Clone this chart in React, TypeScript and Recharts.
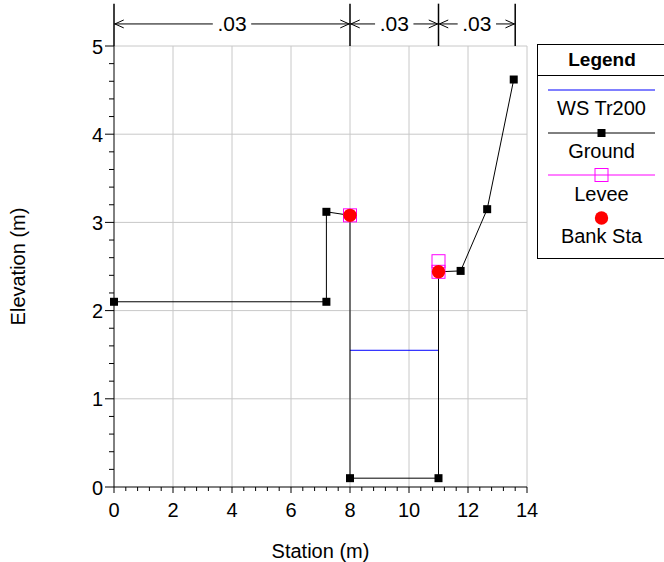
import React from 'react';
import { LineChart, Line, XAxis, YAxis, ReferenceLine, ReferenceDot, Label } from 'recharts';

const groundStation = [0, 7.2, 7.2, 8, 8, 11, 11, 11.75, 12.65, 13.55];
const groundElev = [2.1, 2.1, 3.12, 3.08, 0.1, 0.1, 2.44, 2.45, 3.15, 4.62];
const wsStation = [8, 11];
const wsElev = [1.55, 1.55];
const leveeStation = [8, 11, 11];
const leveeElev = [3.08, 2.44, 2.56];
const bankStation = [8, 11];
const bankElev = [3.08, 2.44];
const nBreaks = [0, 8, 11, 13.6];
const nValues = ['.03', '.03', '.03'];
const xMajorTicks = [0, 2, 4, 6, 8, 10, 12, 14];
const yMajorTicks = [0, 1, 2, 3, 4, 5];
const seriesNames = ['WS Tr200', 'Ground', 'Levee', 'Bank Sta'];
const seriesColors = ['#0000ff', '#000000', '#ff00ff', '#ff0000'];

const FONT = '"Liberation Sans", Arial, Helvetica, sans-serif';
const N_LEVEL = 5.25;
const N_TOP = 5.48;
const ARROW_DX = 0.3;
const ARROW_DY = 0.045;
const TEXT_HALF = 0.65;

const zip = (xs: number[], ys: number[]) => xs.map((x, i) => ({ x, y: ys[i] }));
const groundData = zip(groundStation, groundElev);
const wsData = zip(wsStation, wsElev);
const leveeData = zip(leveeStation, leveeElev);
const bankData = zip(bankStation, bankElev);

const withMinor = (majors: number[], sub: number) => {
  const out: number[] = [];
  for (let i = 0; i < majors.length - 1; i++) {
    for (let k = 0; k < sub; k++) out.push(majors[i] + ((majors[i + 1] - majors[i]) * k) / sub);
  }
  out.push(majors[majors.length - 1]);
  return out;
};
const xTicks = withMinor(xMajorTicks, 5);
const yTicks = withMinor(yMajorTicks, 5);
const isMajor = (v: number, majors: number[]) => majors.some((m) => Math.abs(m - v) < 1e-6);

const X_TS = 6;
const X_TM = 10;
const Y_TS = 9;
const Y_TM = 2;

const XTick = (p: any) => {
  const v = p.payload.value;
  const major = isMajor(v, xMajorTicks);
  const ay = p.y - X_TS - X_TM;
  return (
    <g>
      <line x1={p.x} x2={p.x} y1={ay} y2={ay + (major ? 6 : 4)} stroke="#000" strokeWidth={1} />
      {major && (
        <text x={p.x} y={p.y} dy="0.71em" textAnchor="middle" fill="#000" fontSize={20} fontFamily={FONT}>
          {String(Math.round(v))}
        </text>
      )}
    </g>
  );
};

const YTick = (p: any) => {
  const v = p.payload.value;
  const major = isMajor(v, yMajorTicks);
  const ax = p.x + Y_TS + Y_TM;
  return (
    <g>
      <line x1={ax} x2={ax - (major ? 9 : 5)} y1={p.y} y2={p.y} stroke="#000" strokeWidth={1} />
      {major && (
        <text x={p.x} y={p.y} dy="0.38em" textAnchor="end" fill="#000" fontSize={20} fontFamily={FONT}>
          {String(Math.round(v))}
        </text>
      )}
    </g>
  );
};

const SquareDot = (p: any) => (p.cx == null ? null : <rect x={p.cx - 4} y={p.cy - 4} width={8} height={8} fill="#000" />);
const OpenSquare = (p: any) => (p.cx == null ? null : <rect x={p.cx - 6.5} y={p.cy - 6.5} width={13} height={13} fill="none" stroke="#ff00ff" strokeWidth={1} />);
const RedDot = (p: any) => (p.cx == null ? null : <circle cx={p.cx} cy={p.cy} r={6.7} fill="#ff0000" />);

const segs: any[] = [];
for (let i = 0; i < nValues.length; i++) {
  const a = nBreaks[i];
  const b = nBreaks[i + 1];
  const m = (a + b) / 2;
  segs.push([{ x: a, y: N_LEVEL }, { x: m - TEXT_HALF, y: N_LEVEL }]);
  segs.push([{ x: m + TEXT_HALF, y: N_LEVEL }, { x: b, y: N_LEVEL }]);
  segs.push([{ x: a + 0.03, y: N_LEVEL }, { x: a + 0.03 + ARROW_DX, y: N_LEVEL + ARROW_DY }]);
  segs.push([{ x: a + 0.03, y: N_LEVEL }, { x: a + 0.03 + ARROW_DX, y: N_LEVEL - ARROW_DY }]);
  segs.push([{ x: b - 0.03, y: N_LEVEL }, { x: b - 0.03 - ARROW_DX, y: N_LEVEL + ARROW_DY }]);
  segs.push([{ x: b - 0.03, y: N_LEVEL }, { x: b - 0.03 - ARROW_DX, y: N_LEVEL - ARROW_DY }]);
}

const LegendBox = () => {
  const symY = [45, 88, 130, 173];
  const textY = [63, 106, 149, 191];
  return (
    <div
      style={{
        position: 'absolute',
        left: 537,
        top: 44,
        width: 130,
        height: 215,
        border: '1px solid #000',
        background: '#fff',
        fontFamily: FONT,
        boxSizing: 'border-box',
      }}
    >
      <div style={{ position: 'absolute', left: 0, top: 0, width: 128, height: 30, borderBottom: '1px solid #000', fontSize: 19, fontWeight: 'bold', textAlign: 'center', lineHeight: '30px' }}>
        Legend
      </div>
      <svg width={128} height={213} style={{ position: 'absolute', left: 0, top: 0 }}>
        {seriesNames.map((name, i) => (
          <g key={name}>
            {i !== 3 && <line x1={10} x2={117} y1={symY[i]} y2={symY[i]} stroke={seriesColors[i]} strokeWidth={1} />}
            {i === 1 && <rect x={59.5} y={symY[i] - 4} width={8} height={8} fill="#000" />}
            {i === 2 && <rect x={57} y={symY[i] - 6.5} width={13} height={13} fill="none" stroke={seriesColors[i]} />}
            {i === 3 && <circle cx={63.5} cy={symY[i]} r={6.7} fill={seriesColors[i]} />}
            <text x={63.5} y={textY[i]} dy="0.36em" textAnchor="middle" fontSize={20} fontFamily={FONT} fill="#000">
              {name}
            </text>
          </g>
        ))}
      </svg>
    </div>
  );
};

export default function App() {
  return (
    <div style={{ position: 'absolute', left: 0, top: 0, width: 664, height: 562, background: '#fff', fontFamily: FONT }}>
      <LineChart width={664} height={562} margin={{ top: 46, right: 137, bottom: 0, left: 0 }} style={{ fontFamily: FONT }}>
        <XAxis
          dataKey="x"
          type="number"
          domain={[0, 14]}
          ticks={xTicks}
          interval={0}
          height={75}
          tickSize={X_TS}
          tickMargin={X_TM}
          axisLine={{ stroke: '#000' }}
          tickLine={false}
          tick={<XTick />}
        >
          <Label value="Station (m)" position="insideBottom" offset={4} style={{ fill: '#000', fontSize: 20, fontFamily: FONT }} />
        </XAxis>
        <YAxis
          dataKey="y"
          type="number"
          domain={[0, 5]}
          ticks={yTicks}
          interval={0}
          width={114}
          tickSize={Y_TS}
          tickMargin={Y_TM}
          axisLine={{ stroke: '#000' }}
          tickLine={false}
          tick={<YTick />}
        >
          <Label value="Elevation (m)" angle={-90} position="insideLeft" offset={18} style={{ fill: '#000', fontSize: 20, fontFamily: FONT, textAnchor: 'middle' }} />
        </YAxis>
        {xMajorTicks.filter((v) => v > 0).map((v) => (
          <ReferenceLine key={'gx' + v} x={v} stroke="#c8c8c8" strokeWidth={1} />
        ))}
        {yMajorTicks.filter((v) => v > 0).map((v) => (
          <ReferenceLine key={'gy' + v} y={v} stroke="#c8c8c8" strokeWidth={1} />
        ))}
        {nBreaks.map((b) => (
          <ReferenceLine key={'nb' + b} segment={[{ x: b, y: 5 }, { x: b, y: N_TOP }]} ifOverflow="visible" stroke="#000" strokeWidth={1.5} />
        ))}
        {segs.map((s, i) => (
          <ReferenceLine key={'s' + i} segment={s} ifOverflow="visible" stroke="#000" strokeWidth={1} />
        ))}
        {nValues.map((v, i) => (
          <ReferenceDot
            key={'nv' + i}
            x={(nBreaks[i] + nBreaks[i + 1]) / 2}
            y={N_LEVEL}
            r={0}
            fill="none"
            stroke="none"
            ifOverflow="visible"
            label={{ value: v, position: 'center', fill: '#000', fontSize: 21, fontFamily: FONT }}
          />
        ))}
        <Line data={wsData} dataKey="y" name={seriesNames[0]} stroke={seriesColors[0]} strokeWidth={1} dot={false} activeDot={false} isAnimationActive={false} />
        <Line data={groundData} dataKey="y" name={seriesNames[1]} stroke={seriesColors[1]} strokeWidth={1} dot={<SquareDot />} activeDot={false} isAnimationActive={false} />
        <Line data={leveeData} dataKey="y" name={seriesNames[2]} stroke="none" dot={<OpenSquare />} activeDot={false} isAnimationActive={false} />
        <Line data={bankData} dataKey="y" name={seriesNames[3]} stroke="none" dot={<RedDot />} activeDot={false} isAnimationActive={false} />
      </LineChart>
      <LegendBox />
    </div>
  );
}
